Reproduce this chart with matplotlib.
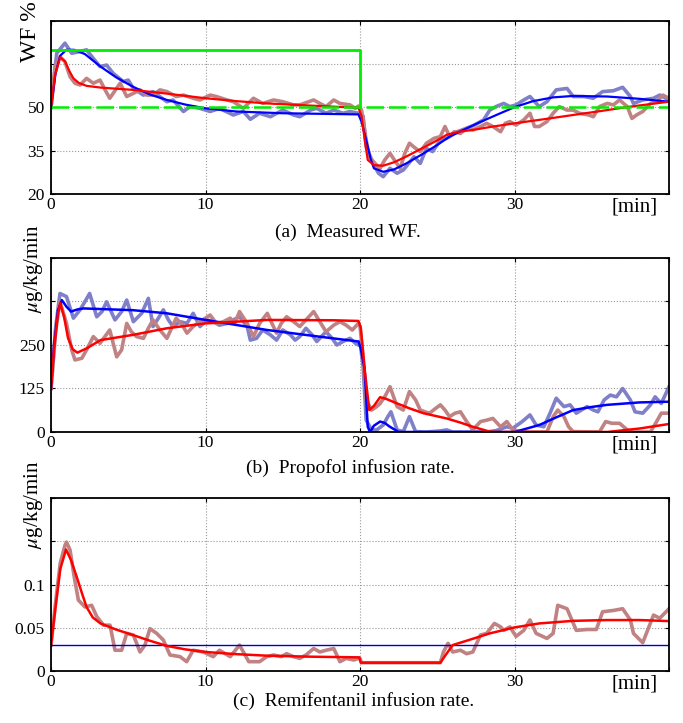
import matplotlib
matplotlib.use("Agg")
import matplotlib.pyplot as plt

plt.rcParams['font.family'] = ['Liberation Serif', 'DejaVu Serif']
plt.rcParams['mathtext.fontset'] = 'stix'

# ---- (a) measured WF ----
wf_blue_t = [0, 0.37, 0.9, 1.34, 1.88, 2.3, 2.74, 3.17, 3.6, 4.03, 4.68, 5.0, 5.33, 5.98, 6.6, 7.5, 7.9,
             8.57, 9.0, 9.64, 10.3, 10.9, 11.8, 12.45, 12.9, 13.5, 14.2, 15.0, 15.7, 16.1, 16.8, 17.2,
             17.8, 18.3, 18.9, 19.35, 19.9, 20.2, 20.4, 20.9, 21.2, 21.5, 21.94, 22.4, 22.8, 23.5, 23.9,
             24.3, 24.7, 25.2, 25.6, 26.3, 26.9, 27.4, 28.0, 28.4, 28.8, 29.3, 29.7, 30.1, 30.6, 31.0,
             31.6, 32.1, 32.7, 33.4, 33.8, 34.5, 35.1, 35.7, 36.4, 37.0, 37.5, 37.7, 38.3, 39.0, 39.4, 40]
wf_blue_v = [50, 68.8, 72.3, 68.8, 69.4, 70, 67, 64.2, 64.7, 61.8, 59, 59.5, 56.6, 54.3, 55.5, 52, 52.6,
             48.6, 50.3, 49.7, 48.6, 49.7, 47.4, 48.6, 45.9, 48, 46.8, 49.1, 47.4, 46.8, 49.1, 49.7,
             48, 49.1, 48, 48.6, 48, 47, 36.4, 30, 27.2, 26, 28.9, 27.2, 28.3, 32.9, 30.6,
             35.8, 34.7, 38.7, 39.3, 41.6, 42.8, 43.9, 45.7, 49.1, 50.3, 51.4, 50.3, 50.9, 52.6, 53.8,
             50.3, 52, 56.1, 56.6, 53.8, 53.8, 53.2, 55.5, 55.8, 57, 53.8, 51.4, 52.6, 53.2, 54.3, 52.6]

wf_red_t = [0, 0.26, 0.58, 0.9, 1.23, 1.55, 1.88, 2.3, 2.74, 3.17, 3.5, 3.8, 4.1, 4.47, 4.9, 5.33, 5.76,
            6.2, 6.6, 7.05, 7.5, 8.1, 8.57, 9.2, 9.64, 10.3, 10.7, 11.4, 11.8, 12.45, 13.1, 13.7, 14.4,
            15.0, 15.7, 16.1, 17.0, 17.4, 17.8, 18.3, 18.7, 19.35, 19.7, 19.9, 20.1, 20.4, 20.6, 20.97,
            21.3, 21.6, 21.94, 22.3, 22.6, 22.9, 23.2, 23.6, 23.9, 24.3, 24.8, 25.2, 25.5, 25.8, 26.1,
            26.5, 26.9, 27.3, 27.8, 28.2, 28.6, 29.1, 29.4, 29.7, 30.1, 30.6, 31.0, 31.3, 31.6, 32.1,
            32.5, 32.9, 33.4, 33.8, 34.2, 34.8, 35.1, 35.5, 36.0, 36.4, 36.8, 37.3, 37.6, 37.9, 38.3,
            38.8, 39.2, 39.6, 40]
wf_red_v = [50, 64.2, 67.6, 65.9, 60.7, 58.4, 57.8, 60.1, 58.4, 59.5, 56.1, 53.2, 55.5, 58.4, 53.8, 54.9, 56.1,
            54.3, 54.3, 56.1, 55.5, 53.8, 54.3, 53.2, 52.6, 54.3, 53.8, 52.6, 52, 49.7, 53.2, 51.4, 52.6,
            52, 50.9, 50.9, 52.6, 51.4, 50.3, 52.6, 51.4, 50.9, 49.7, 50.5, 49.1, 38.7, 32.9, 30.6,
            28.9, 31.8, 34.1, 31.2, 28.9, 34.1, 37.6, 35.8, 34.7, 37.6, 39.3, 39.9, 43.4, 39.9, 41.6,
            41, 42.8, 42.2, 43.4, 44.5, 43.4, 41.6, 44.5, 45.1, 43.9, 45.7, 48, 43.4, 43.4, 45.1,
            48, 50.3, 49.1, 49.1, 48, 47.4, 46.8, 50.3, 51.4, 50.9, 52.6, 50.3, 46.2, 47.4, 48.6,
            51.4, 52, 54.3, 53.2]

wf_model_blue_t = [0, 0.3, 0.6, 1.0, 1.5, 2.2, 3.2, 4.2, 5.3, 6.4, 7.5, 8.7, 10, 12, 15, 19.9, 20.1, 20.4,
                   20.7, 20.9, 21.5, 22.2, 23, 24, 25, 25.8, 26.8, 27.8, 29, 30, 31.2, 32.5, 33.8, 36, 38.1, 40]
wf_model_blue_v = [50, 62, 68, 70, 70, 68.5, 64.2, 60.5, 57.2, 54.5, 52.6, 51, 49.7, 48.6, 48, 47.6, 45, 38.7,
                   32, 28.9, 27.7, 28.5, 30.6, 33.7, 37, 39.9, 42.5, 45, 47.8, 50.1, 52.2, 53.5, 54, 53.8, 53, 52]
wf_model_red_t = [0, 0.25, 0.6, 0.9, 1.2, 1.45, 1.8, 2.3, 3.2, 5.3, 7.5, 10, 12, 14, 17, 19.9, 20.1, 20.3,
                  20.5, 20.9, 21.5, 22.2, 23, 24, 25, 25.6, 26.4, 27.3, 28.5, 30, 32, 33.8, 35.5, 37.5, 40]
wf_model_red_v = [50, 61, 67.4, 66, 62.5, 60.1, 58.5, 57.5, 56.9, 56.1, 54.8, 53.2, 52.2, 51.4, 50.6, 49.9, 47, 39,
                  31.8, 30, 29.8, 31, 33, 35.8, 38.6, 40.5, 41.6, 42.2, 43.3, 44.5, 46, 47.4, 48.7, 50.3, 52]

wf_target_t = [0, 20, 20]
wf_target_v = [70, 70, 50]
wf_ref_t = [0, 40]
wf_ref_v = [50, 50]

# ---- (b) propofol ----
prop_blue_t = [0, 0.3, 0.58, 1.0, 1.45, 1.88, 2.2, 2.5, 2.96, 3.3, 3.6, 4.14, 4.57, 4.9, 5.33, 5.87, 6.3,
               6.6, 6.95, 7.27, 7.6, 7.9, 8.35, 8.8, 9.2, 9.64, 10.1, 10.5, 10.9, 11.4, 11.8, 12.2, 12.7,
               12.9, 13.3, 13.7, 14.2, 14.6, 15.0, 15.5, 15.8, 16.1, 16.5, 16.9, 17.2, 17.5, 17.8, 18.2,
               18.5, 18.9, 19.35, 19.7, 19.9, 20.0, 20.2, 20.4, 20.75, 21.08, 21.5, 21.8, 22.0, 22.4,
               22.8, 23.2, 23.6, 24.3, 25.2, 25.6, 26.0, 28.2, 28.8, 29.5, 29.9, 30.5, 31.0, 31.4, 31.9,
               32.3, 32.7, 33.2, 33.6, 34.0, 34.7, 35.1, 35.4, 35.8, 36.2, 36.6, 37.0, 37.5, 37.8, 38.3,
               38.8, 39.1, 39.5, 40]
prop_blue_v = [125, 300, 398, 389, 327, 351, 375, 398, 331, 346, 374, 322, 346, 379, 317, 341, 384,
               303, 327, 351, 322, 303, 317, 312, 341, 303, 322, 317, 307, 312, 322, 331, 303,
               264, 269, 293, 279, 264, 293, 279, 264, 274, 298, 279, 260, 274, 288, 269,
               250, 260, 269, 255, 250, 260, 188, 34, 6, 6, 20, 44, 58, 6,
               1, 44, 1, 0, 3, 6, 0, 0, 4, 15, 11, 30, 49, 20, 15,
               54, 97, 73, 78, 54, 73, 63, 58, 92, 106, 101, 125, 92, 58, 54,
               78, 101, 82, 130]

prop_red_t = [0, 0.3, 0.58, 1.0, 1.34, 1.55, 2.0, 2.3, 2.74, 3.17, 3.8, 4.25, 4.57, 4.9, 5.2, 5.54, 5.98,
              6.3, 6.6, 7.05, 7.5, 7.8, 8.1, 8.5, 8.8, 9.2, 9.64, 10.3, 10.7, 11.15, 11.6, 11.9, 12.2,
              12.7, 13.1, 13.5, 14.0, 14.3, 14.6, 14.9, 15.25, 15.7, 16.1, 16.5, 17.0, 17.4, 17.8, 18.3,
              18.7, 19.1, 19.5, 19.9, 20.0, 20.2, 20.4, 20.75, 21.08, 21.3, 21.6, 21.94, 22.4, 22.8,
              23.2, 23.6, 23.9, 24.2, 24.5, 24.9, 25.2, 25.5, 25.8, 26.15, 26.5, 26.9, 27.3, 27.8, 28.2,
              28.6, 29.1, 29.5, 29.9, 30.4, 30.8, 32.1, 32.5, 32.8, 33.2, 33.5, 33.8, 35.5, 35.9, 36.3,
              36.8, 37.3, 37.6, 38.8, 39.2, 39.5, 40]
prop_red_v = [125, 290, 375, 312, 236, 207, 212, 236, 274, 255, 293, 216, 236, 312, 288, 274, 269,
              298, 322, 293, 269, 298, 327, 307, 284, 303, 317, 336, 312, 317, 327, 312, 346,
              312, 274, 312, 341, 312, 284, 312, 331, 317, 303, 322, 346, 317, 288, 307,
              317, 307, 293, 312, 303, 216, 92, 63, 73, 82, 101, 130, 73, 63,
              116, 92, 63, 58, 54, 68, 78, 63, 44, 54, 58, 30, 6, 30, 34,
              39, 15, 30, 6, 1, 0, 0, 44, 63, 44, 15, 1, 0, 30, 25,
              25, 6, 0, 0, 30, 54, 54]

prop_model_blue_t = [0, 0.2, 0.45, 0.7, 1.0, 1.3, 1.7, 2.1, 5.3, 7.5, 10, 14, 17, 19.9, 20.05, 20.3, 20.5,
                     20.65, 20.9, 21.3, 21.6, 21.9, 22.5, 30, 31.6, 32.7, 33.8, 35, 36, 38.1, 40]
prop_model_blue_v = [125, 250, 350, 379, 360, 346, 352, 355, 350, 341, 322, 293, 276, 260, 240, 180, 15,
                     0, 18, 30, 26, 16, 0, 0, 20, 42, 63, 72, 78, 85, 87]
prop_model_red_t = [0, 0.2, 0.45, 0.6, 0.85, 1.1, 1.4, 1.7, 2.3, 3.2, 5.3, 7.5, 10, 14, 18.3, 19.9, 20.05,
                    20.3, 20.6, 20.9, 21.3, 21.7, 22.4, 23.2, 24.1, 25.6, 26.5, 27.3, 28.4, 29, 36, 38.1, 40]
prop_model_red_v = [125, 240, 340, 370, 330, 270, 238, 228, 240, 264, 279, 298, 312, 322, 321, 319, 300,
                    180, 63, 75, 100, 95, 82, 68, 54, 39, 27, 15, 1, 0, 0, 10, 23]

# ---- (c) remifentanil ----
remi_red_t = [0, 0.3, 0.6, 0.9, 1.0, 1.23, 1.5, 1.77, 2.2, 2.63, 2.96, 3.4, 3.82, 4.14, 4.57, 4.9, 5.33,
              5.76, 6.08, 6.4, 6.84, 7.27, 7.7, 8.35, 8.78, 9.2, 9.86, 10.5, 10.9, 11.6, 12.2, 12.8,
              13.5, 13.96, 14.4, 14.9, 15.25, 15.7, 16.1, 16.5, 17.0, 17.4, 17.8, 18.3, 18.7, 19.1,
              19.6, 19.9, 20.0, 20.1, 25.2, 25.4, 25.7, 26.0, 26.5, 26.9, 27.3, 27.8, 28.2, 28.7, 29.1,
              29.3, 29.7, 30.1, 30.6, 31.0, 31.4, 32.1, 32.5, 32.8, 33.4, 34.0, 34.7, 35.3, 35.7, 36.4,
              37.0, 37.5, 37.7, 38.3, 39.0, 39.4, 40]
remi_red_v = [0.03, 0.08, 0.125, 0.145, 0.149, 0.14, 0.109, 0.082, 0.074, 0.076, 0.063, 0.053, 0.053, 0.024,
              0.024, 0.0435, 0.0416, 0.022, 0.030, 0.049, 0.0435, 0.0358, 0.0185, 0.0166, 0.0108, 0.024,
              0.022, 0.0166, 0.024, 0.0166, 0.030, 0.0108, 0.0108, 0.0166, 0.0185, 0.0166, 0.020, 0.0166,
              0.0146, 0.0185, 0.026, 0.022, 0.024, 0.026, 0.0108, 0.0146, 0.0127, 0.0146, 0.0146, 0.0096,
              0.0096, 0.022, 0.032, 0.022, 0.024, 0.020, 0.022, 0.0416, 0.0435, 0.055, 0.051, 0.047, 0.051,
              0.040, 0.047, 0.059, 0.0435, 0.0377, 0.0435, 0.076, 0.072, 0.047, 0.048, 0.048, 0.0685,
              0.070, 0.072, 0.059, 0.0435, 0.0327, 0.0647, 0.061, 0.072]

remi_model_t = [0, 0.3, 0.6, 0.97, 1.3, 1.66, 2.0, 2.3, 2.7, 3.2, 4.2, 5.3, 6.4, 7.5, 8.7, 10, 12, 14, 17,
                19.95, 20.05, 25.2, 25.6, 26, 26.9, 28.4, 30, 31.6, 33.8, 36, 38.1, 40]
remi_model_v = [0.03, 0.075, 0.118, 0.1405, 0.128, 0.109, 0.09, 0.074, 0.062, 0.055, 0.048, 0.0416, 0.035,
                0.029, 0.025, 0.022, 0.0195, 0.0177, 0.0165, 0.0158, 0.0096, 0.0096, 0.02, 0.03, 0.035,
                0.0435, 0.0504, 0.055, 0.058, 0.0589, 0.0589, 0.0577]
remi_fixed_t = [0, 40]
remi_fixed_v = [0.03, 0.03]

light_blue = '#8080c8'
light_red = '#c08282'

fig = plt.figure(figsize=(6.83, 7.23), dpi=100)
ax1 = fig.add_axes([0.0747, 0.7317, 0.9048, 0.2393])
ax2 = fig.add_axes([0.0747, 0.4025, 0.9048, 0.2407])
ax3 = fig.add_axes([0.0747, 0.0719, 0.9048, 0.2393])

ax1.plot(wf_blue_t, wf_blue_v, color=light_blue, lw=2.6)
ax1.plot(wf_red_t, wf_red_v, color=light_red, lw=2.6)
ax1.plot(wf_model_blue_t, wf_model_blue_v, color='#0000ff', lw=1.6)
ax1.plot(wf_model_red_t, wf_model_red_v, color='#ff0000', lw=1.6)
ax1.plot(wf_target_t, wf_target_v, color='#00ee00', lw=2)
ax1.plot(wf_ref_t, wf_ref_v, color='#00ee00', lw=1.8, dashes=(7, 2))

ax2.plot(prop_blue_t, prop_blue_v, color=light_blue, lw=2.6)
ax2.plot(prop_red_t, prop_red_v, color=light_red, lw=2.6)
ax2.plot(prop_model_blue_t, prop_model_blue_v, color='#0000ff', lw=1.8)
ax2.plot(prop_model_red_t, prop_model_red_v, color='#ff0000', lw=1.8)

ax3.plot(remi_red_t, remi_red_v, color=light_red, lw=2.6)
ax3.plot(remi_fixed_t, remi_fixed_v, color='#0000cc', lw=1.0)
ax3.plot(remi_model_t, remi_model_v, color='#ff0000', lw=1.8)

ax1.set_ylim(20, 80)
ax1.set_yticks([20, 35, 50, 65, 80])
ax1.set_yticklabels(['20', '35', '50', '', ''])
ax2.set_ylim(0, 500)
ax2.set_yticks([0, 125, 250, 375, 500])
ax2.set_yticklabels(['0', '125', '250', '', ''])
ax3.set_ylim(0, 0.2)
ax3.set_yticks([0, 0.05, 0.1, 0.15, 0.2])
ax3.set_yticklabels(['0', '0.05', '0.1', '', ''])

captions = ['(a)  Measured WF.', '(b)  Propofol infusion rate.', '(c)  Remifentanil infusion rate.']
cap_x = [0.48, 0.485, 0.49]
cap_y = [-0.22, -0.205, -0.172]
for ax, cap, cx, cy in zip([ax1, ax2, ax3], captions, cap_x, cap_y):
    ax.set_xlim(0, 40)
    ax.set_xticks([0, 10, 20, 30, 40])
    ax.set_xticklabels(['0', '10', '20', '30', ''])
    ax.grid(True, linestyle=':', color='#999999', lw=0.8)
    ax.tick_params(direction='in', top=True, right=True, labelsize=12.5, length=3)
    ax.tick_params(axis='y', pad=4.5)
    ax.tick_params(axis='x', pad=2)
    for s in ax.spines.values():
        s.set_linewidth(1.3)
    ax.text(0.945, -0.075, '[min]', transform=ax.transAxes, ha='center', va='center', fontsize=15)
    ax.text(cx, cy, cap, transform=ax.transAxes, ha='center', va='center', fontsize=14)

ax1.text(-0.034, 0.94, 'WF %', transform=ax1.transAxes, rotation=90, ha='center', va='center', fontsize=17)
ax2.text(-0.029, 0.94, r'$\mu$g/kg/min', transform=ax2.transAxes, rotation=90, ha='center', va='center', fontsize=15)
ax3.text(-0.029, 0.96, r'$\mu$g/kg/min', transform=ax3.transAxes, rotation=90, ha='center', va='center', fontsize=15)

plt.savefig('out.png', dpi=100)
